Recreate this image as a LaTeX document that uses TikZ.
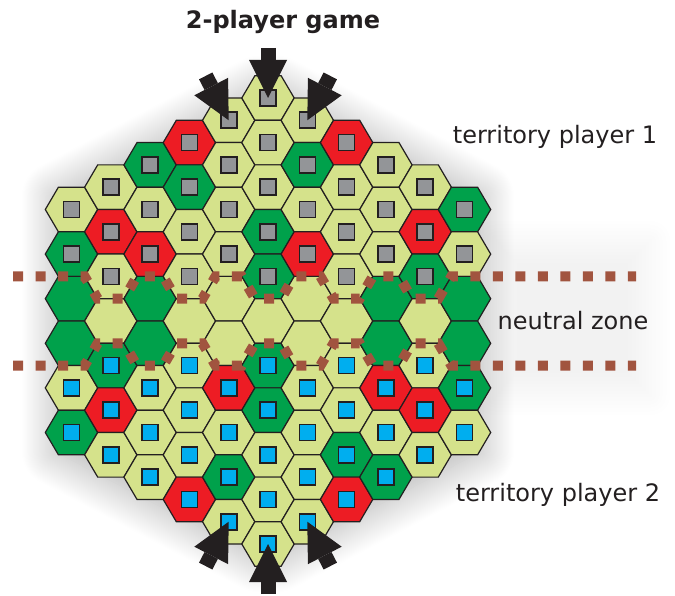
\documentclass[tikz,border=0pt]{standalone}
\usepackage{fontspec}
\setmainfont{DejaVu Sans}
\usetikzlibrary{arrows.meta, shadows.blur}

\definecolor{hexl}{RGB}{213,226,139}
\definecolor{hexg}{RGB}{0,161,75}
\definecolor{hexr}{RGB}{237,28,36}
\definecolor{hexline}{RGB}{35,31,32}
\definecolor{pgray}{RGB}{147,149,152}
\definecolor{pblue}{RGB}{0,174,239}
\definecolor{zonebrown}{RGB}{161,84,63}
\definecolor{inkdark}{RGB}{35,31,32}

\tikzset{
  hexcell/.style={draw=hexline, line width=1.2pt},
  piece/.style={draw=hexline, line width=1.6pt, minimum size=16pt, inner sep=0pt, outer sep=0pt},
  zoneline/.style={draw=zonebrown, line width=10pt, dash pattern=on 10pt off 12.5pt},
  bigarrow/.style={draw=inkdark, line width=15pt, -{Triangle[width=38pt, length=38pt, line width=0pt, fill=inkdark]}},
  tagtext/.style={text=inkdark, anchor=base, font=\fontsize{24}{29}\selectfont},
}

\begin{document}
\begin{tikzpicture}[x=1pt, y=1pt]
      \useasboundingbox (0,0) rectangle (675,595);

      % Sombra em volta do tabuleiro
      \path[blur shadow={shadow xshift=0pt, shadow yshift=-3pt, shadow blur radius=34pt,
          shadow blur steps=40, shadow opacity=32}]
        (258,508) -- (278,508) -- (480,402) -- (480,146) -- (278,40) -- (258,40) -- (56,146) -- (56,402) -- cycle;
      % Faixa clara da zona neutra
      \path[blur shadow={shadow xshift=0pt, shadow yshift=0pt, shadow blur radius=22pt,
          shadow blur steps=30, shadow opacity=5}]
        (495,200) rectangle (650,354);

      % Hexagonos: cores de cima para baixo em cada coluna
      \foreach \k/\cols [count=\ci] in {-5/{l,g,g,g,l,g}, -4/{l,r,l,l,g,r,l}, -3/{g,l,r,g,g,l,l,l},
          -2/{r,g,l,l,l,l,l,l,r}, -1/{l,l,l,l,l,l,r,l,g,l}, 0/{l,l,l,g,g,l,g,g,l,l,l},
          1/{l,g,l,r,l,l,l,l,l,l}, 2/{r,l,l,l,l,l,l,g,r}, 3/{l,l,l,g,g,r,l,g},
          4/{l,r,g,l,l,r,l}, 5/{g,l,g,g,g,l}}{
        \pgfmathsetmacro{\n}{11-abs(\k)}
        \foreach \c [count=\j] in \cols {
          \pgfmathsetmacro{\m}{\j-(\n+1)/2}
          \coordinate (hex\ci-\j) at ({268+(\k)*39.3},{274-(\m)*44.6});
          \draw[hexcell, fill=hex\c] (hex\ci-\j) +(-26.2,0) -- +(-13.1,22.3) -- +(13.1,22.3)
            -- +(26.2,0) -- +(13.1,-22.3) -- +(-13.1,-22.3) -- cycle;
          % Pecas: cinza em cima, azul em baixo
          \pgfmathtruncatemacro{\side}{(\m < -0.6) ? 1 : ((\m > 0.6) ? 2 : 0)}
          \ifnum\side=1 \node[piece, fill=pgray] (sq\ci-\j) at (hex\ci-\j) {}; \fi
          \ifnum\side=2 \node[piece, fill=pblue] (sq\ci-\j) at (hex\ci-\j) {}; \fi
        }
      }

      % Limites da zona neutra
      \draw[zoneline] (13,318.6)
        \foreach \k [evaluate=\k as \zy using {mod(abs(\k),2)==1 ? 318.6 : 296.3}] in {-5,...,5}
          { -- ({268+(\k)*39.3-13.1},\zy) -- ({268+(\k)*39.3+13.1},\zy) }
        -- (636,318.6);
      \draw[zoneline] (13,229.4)
        \foreach \k [evaluate=\k as \zy using {mod(abs(\k),2)==1 ? 229.4 : 251.7}] in {-5,...,5}
          { -- ({268+(\k)*39.3-13.1},\zy) -- ({268+(\k)*39.3+13.1},\zy) }
        -- (636,229.4);

      % Setas de entrada dos jogadores
      \path (hex6-1) ++(0,50) coordinate (tailN);
      \path (hex5-1) ++(117.4:50) coordinate (tailNW);
      \path (hex7-1) ++(62.6:50) coordinate (tailNE);
      \path (hex6-11) ++(0,-50) coordinate (tailS);
      \path (hex5-10) ++(-117.4:50) coordinate (tailSW);
      \path (hex7-10) ++(-62.6:50) coordinate (tailSE);
      \foreach \t/\h in {tailN/hex6-1, tailNW/hex5-1, tailNE/hex7-1, tailS/hex6-11, tailSW/hex5-10, tailSE/hex7-10}
        \draw[bigarrow] (\t) -- (\h);

      % Textos
      \node[tagtext, font=\fontsize{24}{29}\selectfont\bfseries] (title) at (283,566.5) {2-player game};
      \node[tagtext] (terr1) at (555,451) {territory player 1};
      \node[tagtext] (neutral) at (573,265.7) {neutral zone};
      \node[tagtext] (terr2) at (558,93.3) {territory player 2};

\end{tikzpicture}
\end{document}
